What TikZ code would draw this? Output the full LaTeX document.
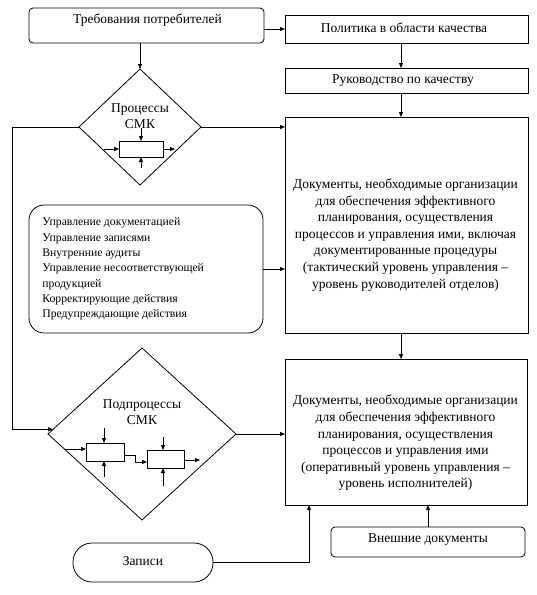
\documentclass[tikz,border=0pt]{standalone}
\usepackage{fontspec}
\setmainfont{Liberation Serif}
\usetikzlibrary{arrows.meta,shapes.geometric}
\begin{document}
\begin{tikzpicture}[x=1pt,y=-1pt,line width=0.8pt,
  arr/.style={-{Triangle[length=5pt,width=4pt]}},
  box/.style={draw,rectangle,inner sep=0pt,outer sep=0pt},
  rbox/.style={box,rounded corners=4pt},
  dia/.style={draw,diamond,inner sep=0pt,outer sep=0pt},
  txt/.style={inner sep=0pt,align=center,font=\fontsize{13.5}{16.6}\selectfont},
  ltxt/.style={inner sep=0pt,align=left,font=\fontsize{11.7}{15.3}\selectfont},
  small/.style={draw,rectangle,inner sep=0pt,outer sep=0pt}
]
\useasboundingbox (0,0) rectangle (537,595);
% boxes
\node[rbox,minimum width=235pt,minimum height=35pt] (req) at (146.5,25.5) {};
\node[box,minimum width=243pt,minimum height=28pt] (pol) at (406.5,29) {};
\node[box,minimum width=243pt,minimum height=25pt] (ruk) at (406.5,80.5) {};
\node[box,minimum width=243pt,minimum height=216pt] (doc1) at (406.5,225) {};
\node[box,minimum width=242pt,minimum height=146pt] (doc2) at (406,432) {};
\node[box,rounded corners=15pt,minimum width=234pt,minimum height=128pt] (lst) at (146,269) {};
\node[dia,minimum width=122pt,minimum height=116pt] (d1) at (140,127) {};
\node[dia,minimum width=188pt,minimum height=172pt] (d2) at (142,434) {};
\node[box,rounded corners=19pt,minimum width=140pt,minimum height=39pt] (zap) at (143,562.5) {};
\node[rbox,minimum width=194pt,minimum height=30pt] (ext) at (428,542) {};
% inner process boxes
\node[small,minimum width=44pt,minimum height=16pt] (p1) at (141,149) {};
\node[small,minimum width=38pt,minimum height=18pt] (q1) at (105,452) {};
\node[small,minimum width=37pt,minimum height=18pt] (q2) at (165.5,459) {};
% texts
\node[txt] (reqt) at (147.5,20) {Требования потребителей};
\node[txt] (polt) at (404,28) {Политика в области качества};
\node[txt] (rukt) at (403,81) {Руководство по качеству};
\node[txt] (doc1t) at (405.5,235) {Документы, необходимые организации\\для обеспечения эффективного\\планирования, осуществления\\процессов и управления ими, включая\\документированные процедуры\\(тактический уровень управления --\\уровень руководителей отделов)};
\node[txt] (doc2t) at (405.5,443) {Документы, необходимые организации\\для обеспечения эффективного\\планирования, осуществления\\процессов и управления ими\\(оперативный уровень управления --\\уровень исполнителей)};
\node[ltxt,anchor=west] (lstt) at (42,269) {Управление документацией\\Управление записями\\Внутренние аудиты\\Управление несоответствующей\\продукцией\\Корректирующие действия\\Предупреждающие действия};
\node[txt] (d1t) at (140,116) {Процессы\\СМК};
\node[txt] (d2t) at (142,412) {Подпроцессы\\СМК};
\node[txt] (zapt) at (143,561) {Записи};
\node[txt] (extt) at (428,540) {Внешние документы};
% coordinates
\coordinate (cx) at (401,0);
\coordinate (lx) at (12,0);
\coordinate (zx) at (309,0);
\coordinate (p1t) at (141,128);
\coordinate (p1b) at (141,168);
\coordinate (p1l) at (104,149);
\coordinate (p1r) at (175,149);
\coordinate (q1l) at (64,449);
\coordinate (q1t) at (104,428);
\coordinate (q1b) at (104,477);
\coordinate (j1) at (135,455);
\coordinate (j2) at (135,462);
\coordinate (q2t) at (163,437);
\coordinate (q2b) at (163,486);
\coordinate (q2r) at (200,460);
% connectors
\draw[arr] (req.east |- pol.west) -- (pol.west);
\draw[arr] (pol.south -| cx) -- (ruk.north -| cx);
\draw[arr] (ruk.south -| cx) -- (doc1.north -| cx);
\draw[arr] (doc1.south -| cx) -- (doc2.north -| cx);
\draw[arr] (req.south -| d1.north) -- (d1.north);
\draw[arr] (d1.east) -- (d1.east -| doc1.west);
\draw[arr] (lst.east) -- (lst.east -| doc1.west);
\draw[arr] (d1.west) -- (d1.west -| lx) -- (lx |- d2.177) -- (d2.177);
\draw[arr] (d2.east) -- (d2.east -| doc2.west);
\draw[arr] (zap.east) -- (zap.east -| zx) -- (zx |- doc2.south);
\draw[arr] (ext.north) -- (ext.north |- doc2.south);
% inner arrows
\draw[arr] (p1t) -- (p1t |- p1.north);
\draw[arr] (p1b) -- (p1b |- p1.south);
\draw[arr] (p1l) -- (p1l -| p1.west);
\draw[arr] (p1.east |- p1r) -- (p1r);
\draw[arr] (q1l) -- (q1l -| q1.west);
\draw[arr] (q1t) -- (q1t |- q1.north);
\draw[arr] (q1b) -- (q1b |- q1.south);
\draw[arr] (q1.east |- j1) -- (j1) -- (j2) -- (j2 -| q2.west);
\draw[arr] (q2t) -- (q2t |- q2.north);
\draw[arr] (q2b) -- (q2b |- q2.south);
\draw[arr] (q2.east |- q2r) -- (q2r);
\end{tikzpicture}
\end{document}
